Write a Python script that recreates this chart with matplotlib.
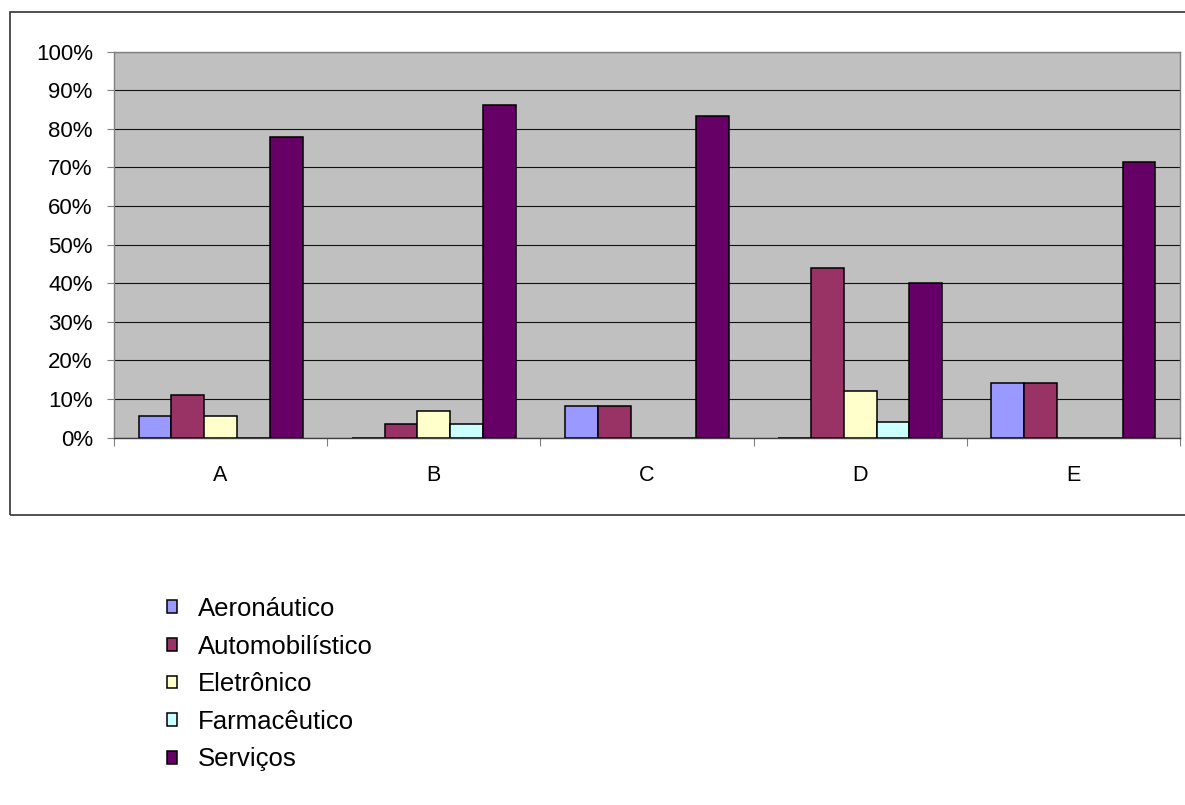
import matplotlib
matplotlib.use("Agg")
import matplotlib.pyplot as plt
from matplotlib.patches import Rectangle
from matplotlib.ticker import PercentFormatter, FixedLocator
import numpy as np

plt.rcParams['font.family'] = ['Liberation Sans', 'DejaVu Sans']

categories = ['A', 'B', 'C', 'D', 'E']
series_names = ['Aeronáutico', 'Automobilístico', 'Eletrônico', 'Farmacêutico', 'Serviços']
series_colors = ['#9999FF', '#993366', '#FFFFCC', '#CCFFFF', '#660066']

aeronautico = [1/18, 0.0, 1/12, 0.0, 1/7]
automobilistico = [2/18, 1/29, 1/12, 0.44, 1/7]
eletronico = [1/18, 2/29, 0.0, 0.12, 0.0]
farmaceutico = [0.0, 1/29, 0.0, 0.04, 0.0]
servicos = [14/18, 25/29, 10/12, 0.40, 5/7]

series_values = [aeronautico, automobilistico, eletronico, farmaceutico, servicos]

W, H = 1185, 805
fig = plt.figure(figsize=(W / 100, H / 100), dpi=100)

# chart area frame
fig.patches.append(Rectangle((10 / W, 1 - 515 / H), 1.2, (515 - 12) / H,
                             transform=fig.transFigure, fill=False,
                             edgecolor='#333333', linewidth=1.2, zorder=0))

left, right, top, bottom = 114, 1180, 51.7, 437.7
ax = fig.add_axes([left / W, 1 - bottom / H, (right - left) / W, (bottom - top) / H])
ax.set_facecolor('#C0C0C0')

n = len(series_names)
gap = 1.5
bw = 1.0 / (n + gap)
x = np.arange(len(categories))
bars = []
for i, (vals, color, name) in enumerate(zip(series_values, series_colors, series_names)):
    offs = (i - (n - 1) / 2) * bw
    b = ax.bar(x + offs, vals, width=bw, color=color, edgecolor='black',
               linewidth=1.1, label=name, zorder=3)
    bars.append(b)

ax.set_xlim(-0.5, len(categories) - 0.5)
ax.set_ylim(0, 1.0)
ax.set_yticks(np.arange(0, 1.01, 0.1))
ax.yaxis.set_major_formatter(PercentFormatter(1.0, decimals=0))
ax.yaxis.grid(True, color='#111111', linewidth=0.8, zorder=1)
ax.set_axisbelow(True)

# category labels centred, ticks at category boundaries
ax.set_xticks(x)
ax.set_xticklabels(categories)
ax.tick_params(axis='x', which='major', length=0, pad=19.5, labelsize=15.5)
ax.xaxis.set_minor_locator(FixedLocator(np.arange(-0.5, len(categories), 1.0)))
ax.tick_params(axis='x', which='minor', length=5.5, width=0.8, color='#808080', direction='out')
ax.tick_params(axis='y', length=5.3, width=0.8, color='#808080', pad=10, labelsize=16)

for side in ['left', 'right', 'top']:
    ax.spines[side].set_color('#808080')
    ax.spines[side].set_linewidth(1.0)
ax.spines['bottom'].set_color('#404040')
ax.spines['bottom'].set_linewidth(1.0)

leg = fig.legend(handles=bars, labels=series_names, loc='upper left',
                 bbox_to_anchor=(167 / W, 1 - 597 / H), frameon=False,
                 fontsize=18.5, handlelength=0.39, handleheight=0.39,
                 handletextpad=0.8, labelspacing=0.53, borderaxespad=0,
                 borderpad=0)

fig.savefig('out.png', dpi=100)
